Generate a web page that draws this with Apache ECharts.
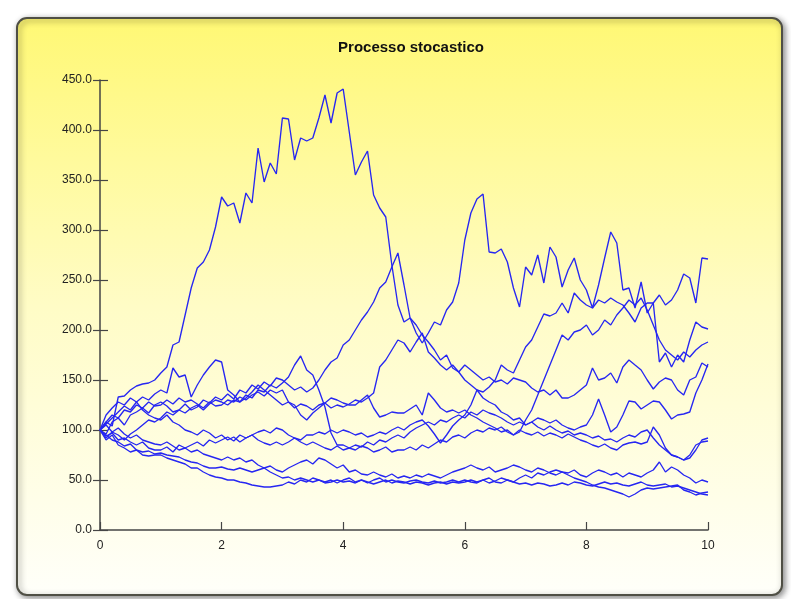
<!DOCTYPE html>
<html>
<head>
<meta charset="utf-8">
<script src="https://cdn.jsdelivr.net/npm/echarts@6/dist/echarts.min.js"></script>
<style>
html,body{margin:0;padding:0;background:#fff;}
#c{width:791px;height:599px;}
</style>
</head>
<body>
<div id="c"></div>
<script>
const title = 'Processo stocastico';
const xTicks = [0, 2, 4, 6, 8, 10];
// sampling grid: t = 0.0, 0.1, ... 10.0
const times = Array.from({length: 101}, (_, i) => i / 10);

const pathA = [100,108,104,133,134,140,144,146,147,150,157,
 163,185,188,215,242,262,268,280,303,333,
 324,327,307,337,327,382,348,367,356,412,
 411,370,392,389,392,412,435,407,437,441,
 398,355,368,379,335,322,313,265,225,208,
 212,197,187,197,208,205,220,228,247,290,
 317,331,336,278,277,281,268,242,223,263,
 255,275,247,283,273,243,260,272,250,240,
 222,245,272,298,287,240,242,222,248,217,
 227,235,225,230,240,256,252,227,272,271];
const pathB = [100,96,108,112,105,115,118,122,117,125,128,
 124,118,120,126,120,123,130,127,133,130,
 136,131,140,137,145,141,148,144,152,150,
 145,140,143,138,142,150,160,168,172,185,
 190,200,210,218,228,242,248,263,277,245,
 212,205,195,188,180,170,175,162,158,150,
 145,140,132,128,125,118,115,110,112,105,
 108,103,100,104,100,97,99,95,97,95,
 92,94,90,91,88,92,95,93,98,100,
 92,85,80,75,73,70,72,80,90,92];
const pathC = [100,94,97,90,92,88,85,88,82,80,80,
 83,78,85,82,85,88,84,90,87,90,
 93,89,95,92,95,90,87,85,88,85,
 88,92,90,95,95,98,96,100,97,100,
 98,95,97,93,95,98,96,100,103,100,
 105,108,110,104,96,87,95,104,110,115,
 125,140,138,143,150,165,160,157,170,183,
 190,203,216,214,217,227,217,237,230,225,
 222,230,227,232,228,225,217,208,222,227,
 227,168,177,163,175,168,190,208,203,201];
const pathD = [100,108,115,112,120,118,125,122,128,124,125,
 130,126,132,128,130,126,122,128,124,125,
 130,128,133,130,135,138,134,140,137,140,
 128,125,115,110,117,122,127,132,130,127,
 125,125,130,135,122,113,115,118,117,117,
 121,125,115,137,130,122,118,120,117,120,
 115,112,108,105,102,98,100,95,98,110,
 120,135,150,165,180,195,190,198,200,205,
 195,200,210,205,215,222,230,225,232,220,
 205,190,180,175,170,178,173,180,185,188];
const pathE = [100,106,112,118,124,120,128,133,130,136,140,
 137,162,153,155,133,145,155,163,170,168,
 140,135,128,132,138,145,140,135,130,125,
 128,122,126,124,120,125,127,122,125,123,
 126,130,128,132,137,163,170,180,190,187,
 178,188,197,178,172,165,160,165,158,165,
 160,155,150,153,148,150,146,152,150,148,
 142,138,140,135,140,132,132,135,140,145,
 162,150,152,157,147,163,170,165,160,150,
 141,148,152,150,140,135,150,153,167,163];
const pathF = [100,115,122,128,125,132,128,120,115,112,110,
 115,108,105,100,98,95,100,97,92,95,
 90,93,88,92,95,98,100,97,102,100,
 95,92,88,85,88,85,82,80,84,80,
 82,85,83,88,85,90,88,92,95,92,
 98,102,105,108,105,110,108,112,115,112,
 118,115,120,117,115,112,108,105,108,105,
 108,112,110,107,110,105,102,100,103,105,
 115,131,115,98,103,115,129,128,121,125,
 129,128,120,111,115,116,118,137,150,166];
const pathG = [100,92,98,95,90,96,100,105,110,108,112,
 118,115,120,117,122,125,120,126,130,128,
 125,130,128,135,132,140,138,145,142,147,
 153,165,174,160,155,140,123,97,85,85,
 82,80,84,82,78,80,83,78,80,80,
 83,80,85,82,86,90,88,93,95,92,
 97,100,98,102,100,103,98,95,100,97,
 95,98,94,97,95,92,96,93,90,88,
 85,83,86,82,80,85,87,88,86,88,
 103,95,82,75,73,70,75,85,88,89];
const pathH = [100,95,90,88,84,86,80,78,79,76,77,
 75,74,73,70,68,67,64,62,62,63,
 61,60,62,60,58,60,62,64,60,58,
 62,65,68,70,66,72,70,66,62,65,
 58,60,56,55,58,55,53,56,52,54,
 52,55,53,56,54,52,55,58,60,62,
 65,62,60,63,58,60,62,65,63,60,
 58,62,60,57,55,58,57,60,55,53,
 57,60,58,55,57,53,57,55,53,57,
 60,68,58,63,60,55,52,47,50,48];
const pathI = [100,90,95,85,82,78,80,75,74,75,75,
 72,70,68,66,62,62,58,55,53,52,
 50,50,48,47,45,44,43,43,44,45,
 48,46,50,48,52,50,48,50,47,50,
 52,48,50,47,50,52,48,50,48,47,
 49,50,48,47,49,47,48,50,48,50,
 48,47,50,47,49,52,50,48,52,55,
 52,57,55,58,60,58,55,52,50,48,
 45,43,42,40,38,36,33,36,40,42,
 41,42,43,44,45,40,38,35,37,38];
const pathJ = [100,105,98,102,96,92,95,90,88,86,85,
 88,84,80,82,78,80,76,74,72,70,
 73,70,72,68,70,65,62,58,55,52,
 53,50,52,50,48,50,47,48,50,48,
 49,47,50,48,46,48,50,47,49,48,
 46,48,47,45,47,48,46,48,47,48,
 50,48,50,52,48,47,50,48,46,47,
 45,47,46,44,45,47,45,48,47,45,
 44,46,48,46,47,45,44,46,48,45,
 44,45,46,43,44,42,40,38,36,35];

const paths = [pathA, pathB, pathC, pathD, pathE, pathF, pathG, pathH, pathI, pathJ];

const chart = echarts.init(document.getElementById('c'), null, {renderer: 'canvas'});
const axisColor = '#454545';
const font = '"Liberation Sans", Arial, sans-serif';

chart.setOption({
  animation: false,
  backgroundColor: '#ffffff',
  graphic: [{
    type: 'rect',
    z: -10,
    silent: true,
    shape: {x: 17, y: 18, width: 765, height: 577, r: 10},
    style: {
      fill: new echarts.graphic.LinearGradient(0, 0, 0, 1, [
        {offset: 0, color: '#FFF874'},
        {offset: 0.5, color: '#FFFCC6'},
        {offset: 1, color: '#FFFFFA'}
      ]),
      stroke: '#4f4f45',
      lineWidth: 2,
      shadowBlur: 6,
      shadowColor: 'rgba(0,0,0,0.45)',
      shadowOffsetX: 2,
      shadowOffsetY: 2
    }
  }],
  title: {
    text: title,
    left: 406,
    top: 35,
    textAlign: 'center',
    textStyle: {fontFamily: font, fontSize: 15, fontWeight: 'bold', color: '#111'}
  },
  grid: {left: 100, top: 80, right: 83, bottom: 69, containLabel: false},
  xAxis: {
    type: 'value', min: 0, max: 10, interval: 2,
    axisLine: {show: true, lineStyle: {color: axisColor, width: 1.5}},
    axisTick: {show: true, inside: true, length: 8, lineStyle: {color: axisColor, width: 1.2}},
    axisLabel: {
      margin: 10, color: '#222', fontFamily: font, fontSize: 12,
      formatter: v => xTicks.includes(v) ? String(v) : ''
    },
    splitLine: {show: false}
  },
  yAxis: [{
    type: 'value', min: 0, max: 450, interval: 50,
    axisLine: {show: true, lineStyle: {color: axisColor, width: 1.5}},
    axisTick: {show: true, inside: false, length: 7, lineStyle: {color: axisColor, width: 1.2}},
    axisLabel: {margin: 8, color: '#222', fontFamily: font, fontSize: 12, formatter: v => v.toFixed(1)},
    splitLine: {show: false}
  }, {
    type: 'value', min: 0, max: 450, interval: 50, position: 'left',
    axisLine: {show: false},
    axisTick: {show: true, inside: true, length: 8, lineStyle: {color: axisColor, width: 1.2}},
    axisLabel: {show: false},
    splitLine: {show: false}
  }],
  series: paths.map((p, k) => ({
    type: 'line',
    name: 'path' + (k + 1),
    yAxisIndex: 0,
    showSymbol: false,
    symbol: 'none',
    data: times.map((t, i) => [t, p[i]]),
    lineStyle: {color: '#2626F2', width: 1.35},
    emphasis: {disabled: true}
  }))
});
</script>
</body>
</html>
